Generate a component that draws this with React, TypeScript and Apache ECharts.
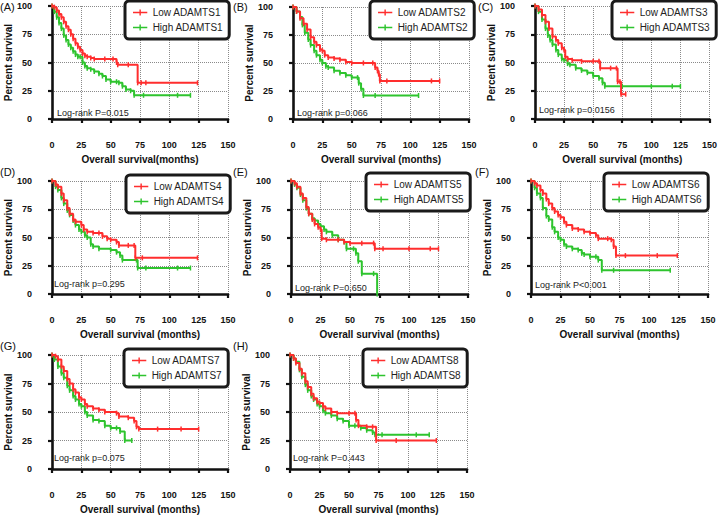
import React, { useEffect, useRef } from "react";
import * as echarts from "echarts";

// ---------- data ----------
const panelLetters = ["(A)", "(B)", "(C)", "(D)", "(E)", "(F)", "(G)", "(H)"];
const genes = ["ADAMTS1", "ADAMTS2", "ADAMTS3", "ADAMTS4", "ADAMTS5", "ADAMTS6", "ADAMTS7", "ADAMTS8"];
const pValueTexts = [
  "Log-rank P=0.015",
  "Log-rank p=0.066",
  "Log-rank p=0.0156",
  "Log-rank p=0.295",
  "Log-rank P=0.650",
  "Log-rank P<0.001",
  "Log-rank p=0.075",
  "Log-rank P=0.443",
];
const xAxisNames = [
  "Overall survival(months)",
  "Overall survival (months)",
  "Overall survival (months)",
  "Overall survival (months)",
  "Overall survival (months)",
  "Overall survival (months)",
  "Overall survival (months)",
  "Overall survival (months)",
];
const yAxisName = "Percent survival";

const lowA = [[0,100],[2,99],[4,96],[6,93],[8,90],[10,86],[12,82],[14,79],[16,75],[18,71],[20,67],[22,64],[24,61],[26,58],[28,56],[30,55],[33,54],[36,53],[45,53],[52,53],[55,50],[56,48],[65,48],[73,32],[76,32],[80,32],[124,32]];
const highA = [[0,100],[2,95],[4,90],[6,85],[8,80],[10,74],[12,70],[14,66],[16,63],[18,60],[20,57],[22,55],[24,55],[26,50],[28,47],[30,45],[33,44],[36,42],[40,40],[43,38],[46,35],[50,33],[55,33],[57,32],[60,29],[63,26],[67,25],[70,21],[78,21],[107,21],[118,21]];
const lowB = [[0,100],[3,96],[6,90],[9,85],[12,80],[15,73],[18,69],[20,66],[23,62],[25,61],[27,57],[30,55],[35,54],[40,53],[45,51],[50,50],[60,50],[68,50],[70,46],[72,43],[73,40],[74,34],[80,34],[118,34],[125,34]];
const highB = [[0,100],[3,96],[6,91],[8,84],[10,77],[13,71],[15,66],[18,61],[20,57],[23,53],[25,50],[28,47],[30,46],[35,43],[40,41],[45,39],[50,37],[55,37],[56,32],[58,27],[60,21],[70,21],[107,21]];
const lowC = [[0,100],[3,97],[6,92],[9,86],[12,80],[15,73],[18,70],[20,67],[23,63],[25,61],[26,55],[28,53],[32,52],[40,51],[50,51],[55,51],[56,45],[65,45],[70,45],[71,33],[73,33],[74,22],[78,22]];
const highC = [[0,100],[3,95],[6,88],[9,80],[11,74],[13,70],[15,66],[18,61],[20,57],[23,53],[25,52],[28,49],[30,48],[35,45],[40,43],[45,41],[50,38],[55,36],[58,32],[60,29],[75,29],[100,29],[118,29],[125,29]];
const lowD = [[0,100],[3,97],[5,95],[8,89],[10,83],[13,76],[15,71],[18,66],[20,64],[25,61],[27,57],[30,55],[35,54],[40,54],[43,51],[47,49],[50,48],[55,46],[57,43],[65,43],[70,43],[71,32],[77,32],[124,32]];
const highD = [[0,100],[3,95],[5,92],[8,85],[10,80],[13,74],[15,70],[18,65],[20,61],[23,57],[25,55],[28,52],[30,50],[33,44],[35,42],[40,40],[50,39],[55,37],[58,34],[60,30],[72,30],[73,23],[80,23],[107,23],[118,23]];
const lowE = [[0,100],[3,98],[5,95],[8,89],[10,85],[13,77],[15,71],[18,66],[20,62],[23,59],[25,57],[26,49],[30,48],[40,48],[45,46],[50,45],[60,45],[70,45],[71,40],[78,40],[100,40],[118,40],[125,40]];
const highE = [[0,100],[3,97],[5,94],[8,88],[10,83],[13,76],[15,71],[18,67],[20,65],[23,62],[25,60],[28,57],[30,55],[35,52],[40,48],[45,46],[47,40],[53,40],[55,36],[57,29],[60,18],[70,18],[73,0]];
const lowF = [[0,100],[3,98],[5,96],[8,92],[10,89],[13,84],[15,80],[18,76],[20,73],[23,70],[25,68],[28,64],[30,61],[35,58],[40,57],[45,55],[50,54],[55,52],[57,49],[65,49],[68,48],[70,42],[72,34],[80,34],[107,34],[124,34]];
const highF = [[0,100],[3,94],[5,89],[8,85],[10,76],[13,69],[15,66],[18,59],[20,55],[23,50],[25,48],[28,44],[30,42],[35,40],[40,39],[43,36],[45,35],[50,33],[55,33],[57,30],[60,21],[70,21],[118,21]];
const lowG = [[0,100],[3,99],[5,96],[8,90],[10,86],[13,79],[15,75],[18,70],[20,67],[23,63],[25,61],[28,57],[30,55],[35,53],[40,52],[45,50],[55,49],[57,46],[65,45],[70,42],[72,37],[74,35],[90,35],[110,35],[125,35]];
const highG = [[0,100],[2,96],[5,90],[8,84],[10,80],[13,73],[15,69],[18,64],[20,61],[23,57],[25,55],[28,50],[30,47],[35,43],[40,42],[45,38],[50,36],[55,36],[58,33],[62,25],[68,25]];
const lowH = [[0,100],[3,97],[5,93],[8,88],[10,84],[13,77],[15,72],[18,66],[20,62],[23,59],[25,58],[28,55],[30,53],[35,50],[40,49],[50,49],[55,49],[56,43],[58,38],[65,37],[70,37],[73,25],[90,25],[124,25]];
const highH = [[0,100],[3,97],[5,94],[8,87],[10,81],[13,74],[15,69],[18,64],[20,61],[23,57],[25,55],[28,51],[30,49],[35,47],[40,44],[45,42],[50,38],[55,38],[60,36],[65,34],[70,32],[72,30],[78,30],[107,30],[118,30]];

const lowSeries = [lowA, lowB, lowC, lowD, lowE, lowF, lowG, lowH];
const highSeries = [highA, highB, highC, highD, highE, highF, highG, highH];

const xTicks = { min: 0, max: 150, interval: 25 };
const yTicks = { min: 0, max: 100, interval: 25 };

// ---------- layout ----------
const gridBoxes = [
  [52, 6, 176, 113],
  [293, 7, 176, 112],
  [535, 6, 175, 113],
  [52, 181, 176, 113],
  [291, 181, 177, 113],
  [531, 181, 177, 113],
  [52, 355, 176, 114],
  [290, 355, 177, 114],
];
const legendPos = [
  [125, 1], [370, 1], [612, 1],
  [126, 175], [366, 173], [604, 173],
  [124, 349], [363, 349],
];
const panelLabelPos = [
  [0, 7], [233, 7], [478, 7],
  [0, 172], [233, 172], [475, 172],
  [0, 346], [233, 346],
];
const pTextPos = [
  [57, 113], [297, 113], [539, 110],
  [54, 284], [295, 288], [535, 285],
  [54, 458], [293, 458],
];

const RED = "#ff2e2e";
const GREEN = "#2ec42e";
const FONT = "'Liberation Sans', Arial, Helvetica, sans-serif";
const legendIcon = "path://M0,3H9V0H11V3H20V5.4H11V8.4H9V5.4H0Z";

export default function App() {
  const ref = useRef<HTMLDivElement>(null);
  useEffect(() => {
    if (!ref.current) return;
    const chart = echarts.init(ref.current, undefined, { renderer: "svg" });
    const axisCommon = {
      axisLine: { show: true, lineStyle: { color: "#111", width: 2.6 } },
      axisTick: { show: true, length: 4, lineStyle: { color: "#111", width: 2.2 } },
      splitLine: { show: true, lineStyle: { type: "dotted", color: "#8a8a8a", width: 1 } },
      axisLabel: { fontWeight: "bold", fontSize: 9, color: "#111", fontFamily: FONT },
      nameLocation: "middle",
      nameTextStyle: { fontWeight: "bold", fontSize: 10, color: "#111", fontFamily: FONT },
    };
    const option: any = {
      animation: false,
      backgroundColor: "#fff",
      grid: gridBoxes.map(([l, t, w, h]) => ({ left: l, top: t, width: w, height: h, containLabel: false })),
      xAxis: gridBoxes.map((_, i) => ({
        ...axisCommon,
        type: "value",
        gridIndex: i,
        ...xTicks,
        offset: 15,
        name: xAxisNames[i],
        nameGap: 20,
        axisLabel: { ...axisCommon.axisLabel, margin: 6 },
      })),
      yAxis: gridBoxes.map((_, i) => ({
        ...axisCommon,
        type: "value",
        gridIndex: i,
        ...yTicks,
        offset: 14,
        name: yAxisName,
        nameGap: 22,
        axisLabel: { ...axisCommon.axisLabel, margin: 6 },
      })),
      legend: gridBoxes.map((_, i) => ({
        data: ["Low " + genes[i], "High " + genes[i]],
        left: legendPos[i][0],
        top: legendPos[i][1],
        orient: "vertical",
        padding: [5, 6, 5, 8],
        itemGap: 2,
        itemWidth: 15,
        itemHeight: 6,
        icon: legendIcon,
        borderColor: "#1a1a1a",
        borderWidth: 3,
        borderRadius: 4,
        backgroundColor: "#fff",
        selectedMode: false,
        textStyle: { fontSize: 10, color: "#222", fontFamily: FONT, lineHeight: 13 },
      })),
      series: gridBoxes.flatMap((_, i) => [
        {
          type: "line",
          name: "High " + genes[i],
          xAxisIndex: i,
          yAxisIndex: i,
          data: highSeries[i],
          step: "end",
          symbol: "rect",
          symbolSize: [1.5, 5],
          showSymbol: true,
          lineStyle: { color: GREEN, width: 2 },
          itemStyle: { color: GREEN },
          z: 2,
        },
        {
          type: "line",
          name: "Low " + genes[i],
          xAxisIndex: i,
          yAxisIndex: i,
          data: lowSeries[i],
          step: "end",
          symbol: "rect",
          symbolSize: [1.5, 5],
          showSymbol: true,
          lineStyle: { color: RED, width: 2 },
          itemStyle: { color: RED },
          z: 3,
        },
      ]),
      graphic: [
        ...panelLetters.map((t, i) => ({
          type: "text",
          x: panelLabelPos[i][0],
          y: panelLabelPos[i][1],
          style: { text: t, fill: "#111", fontSize: 11, fontFamily: FONT, verticalAlign: "middle", align: "left" },
        })),
        ...pValueTexts.map((t, i) => ({
          type: "text",
          x: pTextPos[i][0],
          y: pTextPos[i][1],
          z: 10,
          style: { text: t, fill: "#222", fontSize: 9, fontFamily: FONT, verticalAlign: "middle", align: "left" },
        })),
      ],
    };
    chart.setOption(option);
    return () => chart.dispose();
  }, []);
  return (
    <div
      ref={ref}
      style={{ position: "absolute", left: 0, top: 0, width: 720, height: 515, background: "#fff" }}
    />
  );
}
